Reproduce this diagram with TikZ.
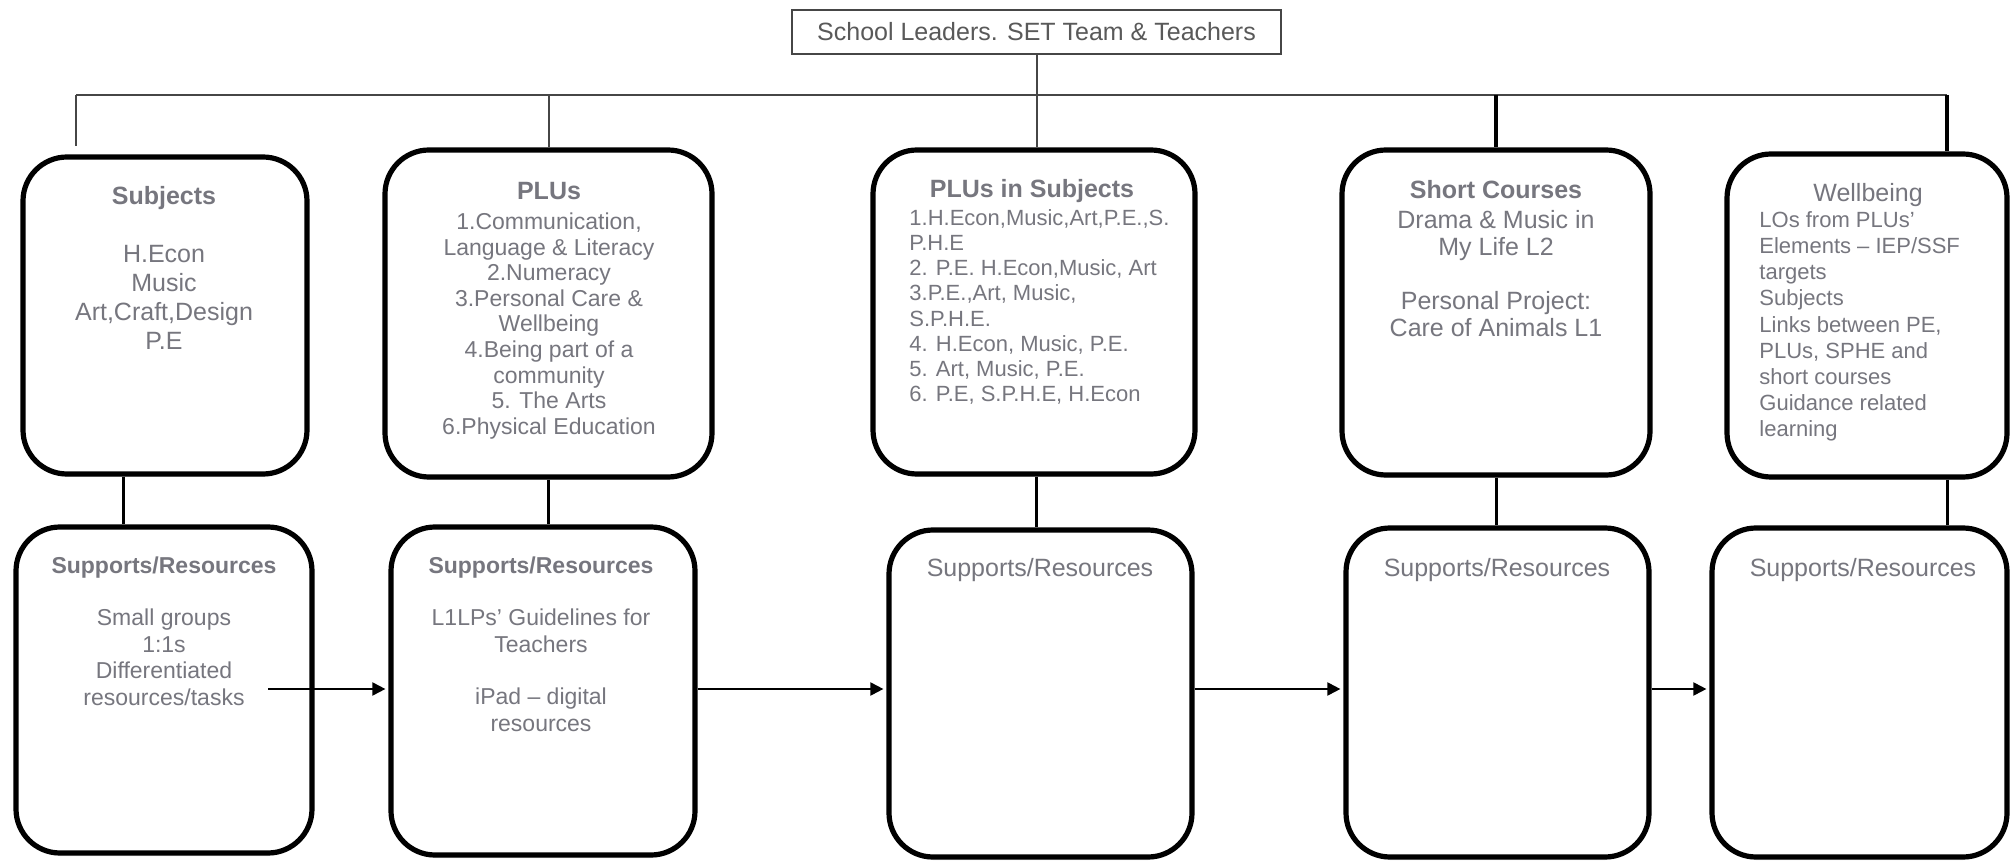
\documentclass[tikz,border=0pt]{standalone}
\usepackage{fontspec}
\setmainfont{Liberation Sans}
\usetikzlibrary{arrows.meta,shadows}
\pgfdeclarelayer{background}
\pgfsetlayers{background,main}
\definecolor{txtgray}{RGB}{118,118,126}
\definecolor{topgray}{RGB}{89,89,89}
\definecolor{linegray}{RGB}{70,70,70}

\begin{document}
\begin{tikzpicture}[x=0.5pt,y=-0.5pt,
  panel/.style={draw=black, line width=2.6pt, rounded corners=22pt, fill=white, inner sep=0pt,
    drop shadow={shadow xshift=0pt, shadow yshift=-1.5pt, opacity=0.22}},
  lbl/.style={inner sep=0pt, text=txtgray, align=center},
  busline/.style={draw=linegray, line width=1pt},
  heavyline/.style={draw=black, line width=1.6pt},
  link/.style={draw=black, line width=1.5pt},
  arr/.style={draw=black, line width=1pt, shorten >=1.5pt, -{Triangle[length=6.5pt,width=6.5pt]}}
]
\useasboundingbox (0,0) rectangle (2012,865);

% header box
\node[draw=linegray, line width=0.8pt, minimum width=244.5pt, minimum height=22pt, inner sep=0pt,
  text=topgray, font=\fontsize{12.5pt}{14pt}\selectfont] (Top) at (1036.5,32)
  {School Leaders. SET Team \& Teachers};

% upper row of panels
\node[panel, minimum width=142pt,   minimum height=158.5pt] (T1) at (165,315.5) {};
\node[panel, minimum width=163.5pt, minimum height=163.5pt] (T2) at (548.5,313.5) {};
\node[panel, minimum width=161pt,   minimum height=162pt]   (T3) at (1034,312) {};
\node[panel, minimum width=154pt,   minimum height=162.5pt] (T4) at (1496,312.5) {};
\node[panel, minimum width=140pt,   minimum height=161.5pt] (T5) at (1867,315.5) {};

% lower row of panels
\node[panel, minimum width=148pt,   minimum height=163pt]   (B1) at (164,690) {};
\node[panel, minimum width=152pt,   minimum height=164pt]   (B2) at (543,691) {};
\node[panel, minimum width=151.5pt, minimum height=163.5pt] (B3) at (1040.5,693.5) {};
\node[panel, minimum width=151.5pt, minimum height=164.5pt] (B4) at (1497.5,692.5) {};
\node[panel, minimum width=147.5pt, minimum height=164.5pt] (B5) at (1859.5,692.5) {};

% panel texts
\node[lbl, anchor=north, font=\fontsize{12.5pt}{14.5pt}\selectfont] (t1txt) at (164,186)
  {\textbf{Subjects}\\[14.5pt]H.Econ\\Music\\Art,Craft,Design\\P.E};

\node[lbl, anchor=north, font=\fontsize{11.5pt}{12.8pt}\selectfont] (t2txt) at (549,182)
  {{\fontsize{12.5pt}{15pt}\selectfont\bfseries PLUs}\\[2.2pt]
   1.Communication,\\Language \& Literacy\\2.Numeracy\\3.Personal Care \&\\Wellbeing\\
   4.Being part of a\\community\\5. The Arts\\6.Physical Education};

\node[lbl, anchor=north, font=\fontsize{12.5pt}{14pt}\selectfont\bfseries] (t3title) at (1032,179)
  {PLUs in Subjects};
\node[lbl, align=left, anchor=north west, font=\fontsize{11pt}{12.6pt}\selectfont] (t3list) at (909,209)
  {1.H.Econ,Music,Art,P.E.,S.\\P.H.E\\2. P.E. H.Econ,Music, Art\\3.P.E.,Art, Music,\\S.P.H.E.\\
   4. H.Econ, Music, P.E.\\5. Art, Music, P.E.\\6. P.E, S.P.H.E, H.Econ};

\node[lbl, anchor=north, font=\fontsize{12.5pt}{13.5pt}\selectfont] (t4txt) at (1496,180)
  {\textbf{Short Courses}\\[1.5pt]Drama \& Music in\\My Life L2\\[13.5pt]Personal Project:\\Care of Animals L1};

\node[lbl, anchor=north, font=\fontsize{12.5pt}{14pt}\selectfont] (t5title) at (1868,183) {Wellbeing};
\node[lbl, align=left, anchor=north west, font=\fontsize{11pt}{13.1pt}\selectfont] (t5list) at (1759,211)
  {LOs from PLUs’\\Elements – IEP/SSF\\targets\\Subjects\\Links between PE,\\PLUs, SPHE and\\
   short courses\\Guidance related\\learning};

\node[lbl, anchor=north, font=\fontsize{11.5pt}{13.25pt}\selectfont] (b1txt) at (164,556)
  {\textbf{Supports/Resources}\\[13pt]Small groups\\1:1s\\Differentiated\\resources/tasks};
\node[lbl, anchor=north, font=\fontsize{11.5pt}{13.25pt}\selectfont] (b2txt) at (541,556)
  {\textbf{Supports/Resources}\\[13pt]L1LPs’ Guidelines for\\Teachers\\[13pt]iPad – digital\\resources};
\node[lbl, anchor=north, font=\fontsize{12.5pt}{14pt}\selectfont] (b3txt) at (1040,558) {Supports/Resources};
\node[lbl, anchor=north, font=\fontsize{12.5pt}{14pt}\selectfont] (b4txt) at (1497,558) {Supports/Resources};
\node[lbl, anchor=north, font=\fontsize{12.5pt}{14pt}\selectfont] (b5txt) at (1863,558) {Supports/Resources};

% connectors
\coordinate (busL) at (76,95);
\coordinate (busR) at (1947,95);
\coordinate (v1) at (123,0);
\coordinate (lvl) at (0,689);
\coordinate (a1) at (268,689);

\begin{pgfonlayer}{background}
  \fill[white] (0,0) rectangle (2012,865);
  \draw[busline] (busL) -- (busR);
  \draw[busline] (Top.south) -- (Top.south |- T3.north);
  \draw[busline, shorten >=4pt] (busL) -- (busL |- T1.north);
  \draw[busline] (T2.north |- busL) -- (T2.north);
  \draw[heavyline] (T4.north |- busL) -- (T4.north);
  \draw[heavyline] (busR) -- (busR |- T5.north);

  \draw[link] (v1 |- T1.south) -- (v1 |- B1.north);
  \draw[link] (T2.south) -- (T2.south |- B2.north);
  \draw[link] (Top.south |- T3.south) -- (Top.south |- B3.north);
  \draw[link] (T4.south) -- (T4.south |- B4.north);
  \draw[link] (busR |- T5.south) -- (busR |- B5.north);
\end{pgfonlayer}

\draw[arr] (a1) -- (a1 -| B2.west);
\draw[arr] (lvl -| B2.east) -- (lvl -| B3.west);
\draw[arr] (lvl -| B3.east) -- (lvl -| B4.west);
\draw[arr] (lvl -| B4.east) -- (lvl -| B5.west);
\end{tikzpicture}
\end{document}
